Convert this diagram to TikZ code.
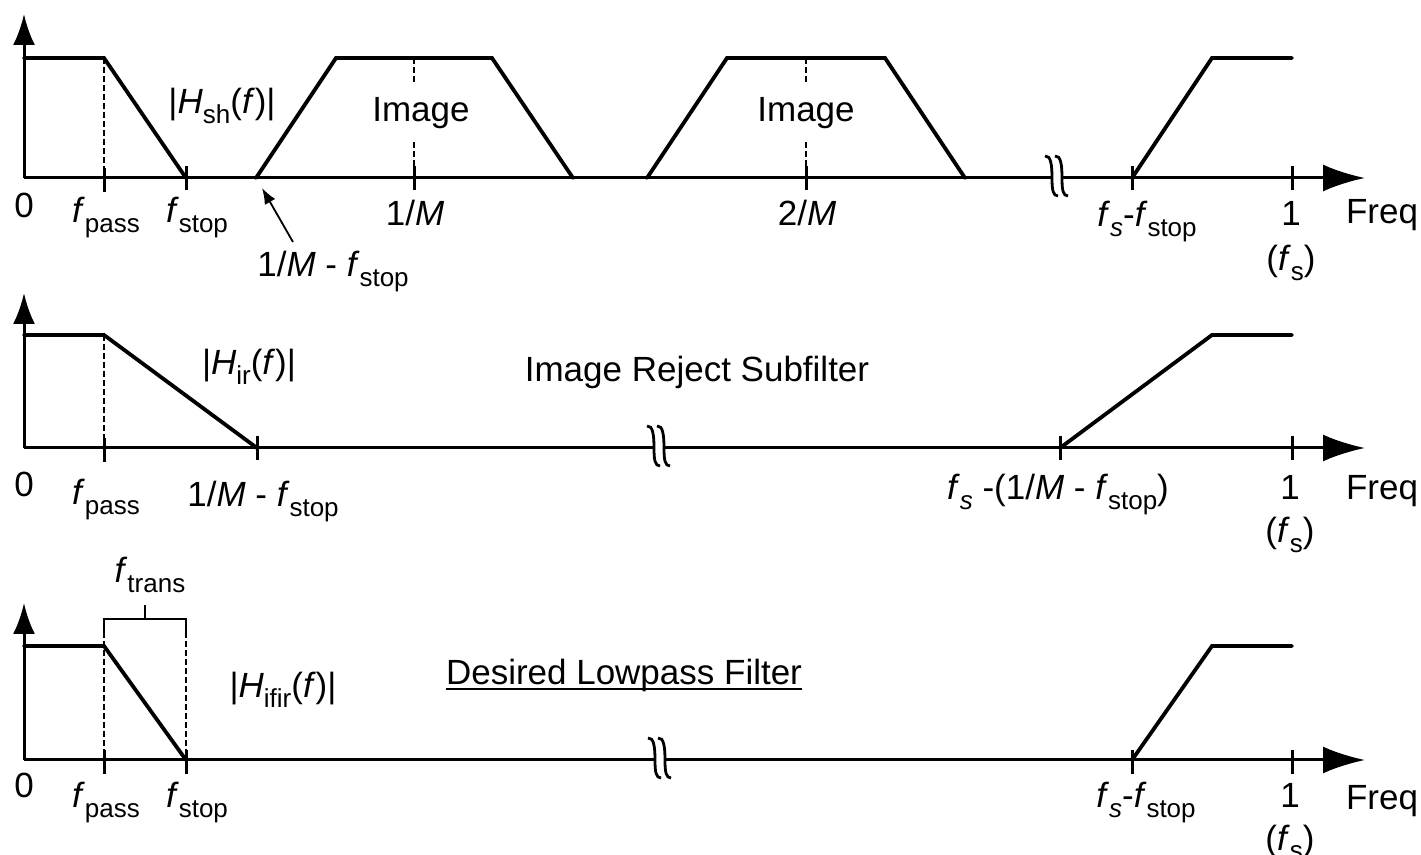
\documentclass[tikz,border=0pt]{standalone}
\usepackage{fontspec}
\setmainfont{Liberation Sans}
\usetikzlibrary{arrows.meta}
\tikzset{>=latex}
\newcommand\sub[1]{\raisebox{-0.28em}{\fontsize{13}{13}\selectfont #1}}
\newcommand\ff{\textit{f}}
\tikzstyle{resp}=[line width=1.9pt,line join=miter,line cap=round]
\tikzstyle{haxis}=[line width=1.5pt,-{Latex[length=21pt,width=13.5pt]}]
\tikzstyle{vaxis}=[line width=1.5pt,-{Latex[length=15.5pt,width=11pt]}]
\tikzstyle{tk}=[line width=1.5pt]
\tikzstyle{guide}=[line width=0.7pt,dash pattern=on 3pt off 1.5pt]
\tikzstyle{lbl}=[inner sep=0pt,anchor=base,font=\fontsize{17.5}{21}\selectfont]
\tikzset{axbrk/.pic={
  \fill[white] (-4.3,-3.5) rectangle (4.3,3.5);
  \draw[line width=1.4pt] (-12,-22) .. controls (-6,-23) and (-5,-12) .. (-5,0)
        .. controls (-5,12) and (-4,18) .. (1,18);
  \draw[line width=1.4pt] (-2,-22) .. controls (4,-23) and (5,-12) .. (5,0)
        .. controls (5,12) and (6,18) .. (11,18);
}}

\begin{document}
\begin{tikzpicture}[x=0.5pt,y=-0.5pt]
  \useasboundingbox (0,0) rectangle (1421,855);

  % sample-and-hold response with images
  \coordinate (o1) at (24,178);
  \coordinate (im1s) at (256,178);
  \draw[vaxis] (o1) -- (24,14);
  \draw[haxis] (o1) -- (1365,178);
  \draw[resp] (24,58) -- (104,58) -- (186,178);
  \draw[resp] (im1s) -- (336,58) -- (492,58) -- (573,178);
  \draw[resp] (647,178) -- (727,58) -- (885,58) -- (965,178);
  \draw[resp] (1132,178) -- (1212,58) -- (1292,58);
  \draw[guide] (104,58) -- (104,168);
  \draw[guide] (414,58) -- (414,85) (414,142) -- (414,168);
  \draw[guide] (806,58) -- (806,85) (806,142) -- (806,168);
  \draw[tk] (104,168) -- (104,192) (186,166) -- (186,190) (414,166) -- (414,190)
            (806,166) -- (806,190) (1132,166) -- (1132,190) (1292,166) -- (1292,190);
  \pic at (1057,178) {axbrk};
  \node[lbl] (z1) at (24,218) {0};
  \node[lbl] (fp1) at (106,223) {\ff\sub{pass}};
  \node[lbl] (fs1) at (197,223) {\ff\sub{stop}};
  \node[lbl] (m1) at (415,226) {1/\textit{M}};
  \node[lbl] (m2) at (807,226) {2/\textit{M}};
  \node[lbl] (sf1) at (1147,227) {\ff\sub{\textit{s}}-\ff\sub{stop}};
  \node[lbl] (one1) at (1291,226) {1};
  \node[lbl] (fsm1) at (1291,271) {(\ff\sub{s})};
  \node[lbl] (fq1) at (1382,224) {Freq};
  \node[lbl] (hsh) at (222,114) {|\textit{H}\sub{sh}(\ff)|};
  \node[lbl] (img1) at (421,122) {Image};
  \node[lbl] (img2) at (806,122) {Image};
  \node[lbl] (ms1) at (333,277) {1/\textit{M} - \ff\sub{stop}};
  \coordinate (arrt) at (293,242);
  \draw[line width=0.9pt,-{Latex[length=8pt,width=6pt]}] (arrt) -- ([shift={(6,10)}]im1s);

  % image reject subfilter
  \coordinate (o2) at (24,448);
  \draw[vaxis] (o2) -- (24,293);
  \draw[haxis] (o2) -- (1365,448);
  \draw[resp] (24,335) -- (104,335) -- (257,448);
  \draw[resp] (1060,448) -- (1212,335) -- (1292,335);
  \draw[guide] (104,335) -- (104,438);
  \draw[tk] (104,438) -- (104,462) (257,436) -- (257,460)
            (1060,436) -- (1060,460) (1292,436) -- (1292,460);
  \pic at (659,448) {axbrk};
  \node[lbl] (z2) at (24,497) {0};
  \node[lbl] (fp2) at (106,505) {\ff\sub{pass}};
  \node[lbl] (ms2) at (263,507) {1/\textit{M} - \ff\sub{stop}};
  \node[lbl] (hir) at (249,375) {|\textit{H}\sub{ir}(\ff)|};
  \node[lbl] (irs) at (697,382) {Image Reject Subfilter};
  \node[lbl] (sm2) at (1058,500) {\ff\sub{\textit{s}} -(1/\textit{M} - \ff\sub{stop})};
  \node[lbl] (one2) at (1290,500) {1};
  \node[lbl] (fsm2) at (1290,543) {(\ff\sub{s})};
  \node[lbl] (fq2) at (1382,500) {Freq};

  % desired lowpass
  \coordinate (o3) at (24,760);
  \draw[vaxis] (o3) -- (24,603);
  \draw[haxis] (o3) -- (1365,760);
  \draw[resp] (24,646) -- (104,646) -- (186,760);
  \draw[resp] (1132,760) -- (1212,646) -- (1292,646);
  \draw[line width=0.9pt] (104,632) -- (104,619) -- (186,619) -- (186,632) (145,619) -- (145,605);
  \draw[guide] (104,632) -- (104,750) (186,632) -- (186,750);
  \draw[tk] (104,750) -- (104,774) (186,750) -- (186,774)
            (1132,750) -- (1132,774) (1292,750) -- (1292,774);
  \pic at (660,760) {axbrk};
  \node[lbl] (z3) at (24,798) {0};
  \node[lbl] (fp3) at (106,808) {\ff\sub{pass}};
  \node[lbl] (fs3) at (197,808) {\ff\sub{stop}};
  \node[lbl] (sf3) at (1146,808) {\ff\sub{\textit{s}}-\ff\sub{stop}};
  \node[lbl] (one3) at (1290,808) {1};
  \node[lbl] (fsm3) at (1290,850) {(\ff\sub{s})};
  \node[lbl] (fq3) at (1382,810) {Freq};
  \node[lbl] (ftr) at (150,583) {\ff\sub{trans}};
  \node[lbl] (hif) at (283,698) {|\textit{H}\sub{ifir}(\ff)|};
  \node[lbl] (dlp) at (624,685) {Desired Lowpass Filter};
  \draw[line width=1.4pt] ([yshift=-2pt]dlp.base west) -- ([yshift=-2pt]dlp.base east);
\end{tikzpicture}
\end{document}
